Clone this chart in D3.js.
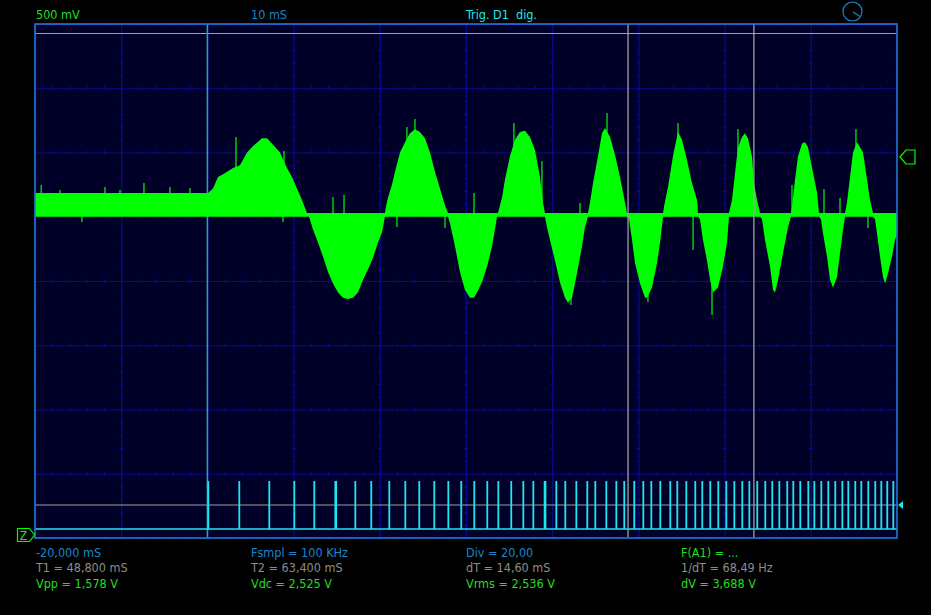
<!DOCTYPE html>
<html><head><meta charset="utf-8">
<script src="https://cdn.jsdelivr.net/npm/d3@7"></script>
<style>html,body{margin:0;background:#000;overflow:hidden}svg{display:block}</style>
</head><body><svg id="c" width="931" height="615"></svg>
<script>
// ---- data ----
const timeDomain = [-20, 80];          // ms, 10 mS/div
const voltDomain = [-2, 2];            // V, 500 mV/div
const timeGrid = [-20,-10,0,10,20,30,40,50,60,70,80];
const voltGrid = [-2,-1.5,-1,-0.5,0,0.5,1,1.5,2];
const baseV = 0.5, noiseTopV = 0.53;
const envT = [-20,0,0.07,0.65,1.23,1.81,2.97,3.78,4.59,5.29,6.33,6.91,7.61,8.42,9.23,9.81,10.39,10.97,11.32,11.55,
 11.79,12.25,12.83,13.41,13.99,14.57,15.15,15.73,16.31,16.89,17.47,18.05,18.63,19.21,19.79,20.26,20.60,
 20.72,20.95,21.41,21.76,22.34,22.92,23.50,24.08,24.66,25.24,25.82,26.40,26.98,27.56,27.91,
 28.14,28.72,29.30,29.88,30.46,30.93,31.27,31.85,32.44,33.02,33.36,33.60,
 33.71,34.18,34.52,35.10,35.68,36.26,36.84,37.42,38.00,38.58,38.93,39.16,
 39.39,39.74,40.32,40.90,41.48,41.83,42.30,42.88,43.46,43.80,44.15,
 44.38,44.73,45.31,45.78,46.13,46.71,47.29,47.87,48.33,48.68,
 48.91,49.26,49.61,50.19,50.77,51.00,51.58,52.16,52.51,52.86,
 52.97,53.43,54.01,54.59,55.06,55.64,56.22,56.80,56.91,
 57.14,57.49,57.96,58.31,58.65,59.23,59.81,60.28,60.51,
 60.86,61.21,61.55,62.02,62.37,62.71,63.18,63.41,63.76,64.11,
 64.34,64.69,65.27,65.62,65.85,66.20,66.78,67.36,67.70,
 67.82,68.17,68.52,68.98,69.33,69.68,70.26,70.72,70.95,
 71.18,71.42,71.88,72.23,72.58,73.04,73.39,73.74,73.97,
 74.20,74.55,74.90,75.36,75.71,76.06,76.52,76.87,77.22,
 77.45,77.68,78.03,78.38,78.61,78.96,79.42,79.77,80.00];
const envV = [0.685,0.685,0.685,0.72,0.81,0.83,0.88,0.90,1.00,1.05,1.11,1.11,1.06,1.00,0.88,0.81,0.72,0.63,0.57,0.51,
 0.50,0.40,0.30,0.19,0.07,-0.02,-0.09,-0.13,-0.14,-0.13,-0.09,0.01,0.09,0.18,0.30,0.38,0.50,
 0.58,0.65,0.75,0.85,1.00,1.08,1.15,1.18,1.16,1.11,1.00,0.85,0.72,0.59,0.51,
 0.45,0.27,0.07,-0.07,-0.13,-0.13,-0.09,-0.01,0.11,0.27,0.40,0.50,
 0.53,0.65,0.79,0.97,1.10,1.16,1.17,1.12,1.02,0.81,0.61,0.53,
 0.42,0.32,0.16,-0.01,-0.13,-0.17,-0.13,0.06,0.27,0.42,0.50,
 0.61,0.76,0.97,1.15,1.19,1.12,0.98,0.81,0.65,0.53,
 0.48,0.32,0.14,-0.02,-0.13,-0.13,-0.05,0.14,0.30,0.50,
 0.58,0.73,0.97,1.16,1.10,0.94,0.76,0.63,0.51,
 0.48,0.32,0.16,0.01,-0.09,-0.05,0.11,0.30,0.50,
 0.63,0.84,1.04,1.12,1.15,1.11,0.97,0.76,0.63,0.51,
 0.48,0.32,0.11,-0.07,-0.09,0.01,0.22,0.42,0.50,
 0.58,0.79,0.97,1.07,1.08,1.04,0.84,0.69,0.53,
 0.48,0.37,0.19,0.01,-0.05,0.03,0.22,0.40,0.50,
 0.61,0.81,1.00,1.08,1.04,1.00,0.79,0.63,0.51,
 0.48,0.37,0.19,0.03,-0.02,0.06,0.19,0.32,0.37];
const spikeT = [-19.28,-17.1,-14.55,-11.88,-10.14,-7.36,-4.34,-2.02,3.32,8.89,8.77,14.57,15.85,21.99,23.15,24.08,27.56,
 30.93,35.56,38.81,42.18,43.23,46.36,51.11,54.59,56.34,58.54,61.55,67.82,71.53,73.39,75.24,76.63];
const spikeV = [0.747,0.708,0.459,0.732,0.708,0.763,0.732,0.724,1.121,1.012,0.459,0.654,0.669,0.420,1.198,1.261,0.412,
 0.685,1.230,0.934,-0.187,0.607,1.307,-0.163,1.230,0.241,-0.265,1.183,0.747,0.716,0.646,1.183,0.412];
const pulseT = [0.10,3.70,7.18,10.08,12.40,14.84,14.94,17.16,19.01,21.10,22.96,24.58,26.32,27.95,29.45,30.96,32.47,33.75,
 35.25,36.65,37.81,39.12,39.22,40.48,41.52,42.80,44.07,45.00,46.28,47.44,48.36,49.52,50.57,51.50,52.54,53.70,
 54.51,55.56,56.60,57.41,58.34,59.27,60.20,61.13,62.05,62.87,63.79,64.72,65.53,66.35,67.27,67.97,68.78,69.71,
 70.41,71.22,72.03,72.84,73.66,74.35,75.16,75.86,76.67,77.48,78.18,78.87,79.57];
const cursorT = [48.8, 63.4];
const triggerT = 0;
const headerText = ["500 mV", "10 mS", "Trig. D1  dig."];
const row1 = ["-20,000 mS", "Fsmpl = 100 KHz", "Div = 20,00", "F(A1) = ..."];
const row2 = ["T1 = 48,800 mS", "T2 = 63,400 mS", "dT = 14,60 mS", "1/dT = 68,49 Hz"];
const row3 = ["Vpp = 1,578 V", "Vdc = 2,525 V", "Vrms = 2,536 V", "dV = 3,688 V"];

// ---- layout ----
const L = 35, R = 897, T = 24, B = 538;
const svg = d3.select("#c");
const x = d3.scaleLinear(timeDomain, [L, R]);
const y = d3.scaleLinear(voltDomain, [B, T]);
const dig = d3.scaleLinear([0, 1], [529, 481]);

const COL_BG = "#000029", COL_GRID = "#0a0a8c", COL_BORDER = "#1e78dc";
const COL_GREEN = "#00ff00", COL_CYAN = "#1ee6f0", COL_GREY = "#a0a0a0";
const COL_TXT_GREEN = "#22dd22", COL_TXT_BLUE = "#1a86cc", COL_TXT_GREY = "#8c8c8c";

svg.append("rect").attr("width", 931).attr("height", 615).attr("fill", "#000");
svg.append("rect").attr("x", L).attr("y", T).attr("width", R - L).attr("height", B - T).attr("fill", COL_BG);

const defs = svg.append("defs");
defs.append("clipPath").attr("id", "clip").append("rect").attr("x", L).attr("y", T).attr("width", R - L).attr("height", B - T);
const plot = svg.append("g").attr("clip-path", "url(#clip)");

// grid via axes
const gx = plot.append("g").attr("transform", `translate(0,${B})`)
  .call(d3.axisBottom(x).tickValues(timeGrid).tickSize(-(B - T)).tickFormat(""));
gx.select(".domain").remove();
gx.selectAll("line").attr("stroke", COL_GRID).attr("stroke-width", 1.2);
const gy = plot.append("g").attr("transform", `translate(${L},0)`)
  .call(d3.axisLeft(y).tickValues(voltGrid).tickSize(-(R - L)).tickFormat(""));
gy.select(".domain").remove();
gy.selectAll("line").attr("stroke", COL_GRID).attr("stroke-width", 1.2);

// minor ticks
const minorT = d3.range(-20, 80.001, 2);
const minorV = d3.range(-2, 2.001, 0.1);
voltGrid.forEach(v => {
  const g = plot.append("g").attr("transform", `translate(0,${y(v) - 2})`)
    .call(d3.axisBottom(x).tickValues(minorT).tickSize(4).tickSizeOuter(0).tickFormat(""));
  g.select(".domain").remove();
  g.selectAll("line").attr("stroke", COL_GRID).attr("stroke-width", 1.1);
});
timeGrid.forEach(t => {
  const g = plot.append("g").attr("transform", `translate(${x(t) + 2},0)`)
    .call(d3.axisLeft(y).tickValues(minorV).tickSize(4).tickSizeOuter(0).tickFormat(""));
  g.select(".domain").remove();
  g.selectAll("line").attr("stroke", COL_GRID).attr("stroke-width", 1.1);
});

// grey reference lines
plot.append("line").attr("x1", L).attr("x2", R).attr("y1", 33.5).attr("y2", 33.5).attr("stroke", COL_GREY).attr("stroke-width", 1.2);
plot.append("line").attr("x1", L).attr("x2", R).attr("y1", 505).attr("y2", 505).attr("stroke", COL_GREY).attr("stroke-width", 1.2);

// trigger line
plot.append("line").attr("x1", x(triggerT)).attr("x2", x(triggerT)).attr("y1", T).attr("y2", B)
  .attr("stroke", "#1fa8a8").attr("stroke-width", 1.5);

// envelope
const env = envT.map((t, i) => ({ t, v: envV[i] }));
const area = d3.area()
  .x(d => x(d.t))
  .y0(d => y(Math.min(d.v, baseV)))
  .y1(d => y(Math.max(d.v, noiseTopV)));
plot.append("path").datum(env).attr("d", area).attr("fill", COL_GREEN);

// spikes
plot.selectAll("line.spike").data(spikeT.map((t, i) => ({ t, v: spikeV[i] }))).join("line")
  .attr("class", "spike")
  .attr("x1", d => x(d.t)).attr("x2", d => x(d.t))
  .attr("y1", y(0.515)).attr("y2", d => y(d.v))
  .attr("stroke", COL_GREEN).attr("stroke-width", 1.2);

// digital channel
plot.append("line").attr("x1", L).attr("x2", R).attr("y1", dig(0)).attr("y2", dig(0)).attr("stroke", COL_CYAN).attr("stroke-width", 1.5);
plot.selectAll("rect.pulse").data(pulseT).join("rect")
  .attr("class", "pulse")
  .attr("x", d => x(d) - 0.9).attr("width", 1.8)
  .attr("y", dig(1)).attr("height", dig(0) - dig(1))
  .attr("fill", COL_CYAN);

// cursors
cursorT.forEach(t => {
  plot.append("line").attr("x1", x(t)).attr("x2", x(t)).attr("y1", T).attr("y2", B)
    .attr("stroke", COL_GREY).attr("stroke-width", 1.3);
});

// border
svg.append("rect").attr("x", L).attr("y", T).attr("width", R - L).attr("height", B - T)
  .attr("fill", "none").attr("stroke", COL_BORDER).attr("stroke-width", 1.6);

// markers
svg.append("path").attr("d", `M${R + 3},${y(0.965)} L${R + 9},${y(0.965) - 7} L${R + 18},${y(0.965) - 7} L${R + 18},${y(0.965) + 7} L${R + 9},${y(0.965) + 7} Z`)
  .attr("fill", "#000").attr("stroke", COL_GREEN).attr("stroke-width", 1.2);
svg.append("path").attr("d", `M${R + 1},505 L${R + 6},501 L${R + 6},509 Z`).attr("fill", COL_CYAN);
svg.append("path").attr("d", `M17.5,528.5 L29.5,528.5 L34.5,535 L29.5,541.5 L17.5,541.5 Z`)
  .attr("fill", "#000").attr("stroke", COL_GREEN).attr("stroke-width", 1.2);
svg.append("text").attr("x", 23.5).attr("y", 540).attr("text-anchor", "middle")
  .attr("font-family", "DejaVu Sans Condensed, DejaVu Sans").attr("font-size", 12).attr("fill", COL_GREEN).text("Z");

// clock icon
svg.append("circle").attr("cx", 852.5).attr("cy", 11.5).attr("r", 9.5).attr("fill", "none").attr("stroke", COL_TXT_BLUE).attr("stroke-width", 1.2);
svg.append("line").attr("x1", 853).attr("y1", 12).attr("x2", 860).attr("y2", 16.5).attr("stroke", COL_TXT_BLUE).attr("stroke-width", 1.2);

// texts
const font = "DejaVu Sans Condensed, DejaVu Sans, sans-serif";
const colX = [36, 251, 466, 681];
const headerCol = [COL_TXT_GREEN, COL_TXT_BLUE, COL_CYAN];
svg.selectAll("text.hdr").data(headerText).join("text").attr("class", "hdr")
  .attr("x", (d, i) => colX[i]).attr("y", 19).attr("font-family", font).attr("font-size", 12.5)
  .attr("fill", (d, i) => headerCol[i]).attr("xml:space", "preserve").style("white-space", "pre").text(d => d);

const rows = [
  { y: 556.5, items: row1, colors: [COL_TXT_BLUE, COL_TXT_BLUE, COL_TXT_BLUE, COL_TXT_GREEN] },
  { y: 572, items: row2, colors: [COL_TXT_GREY, COL_TXT_GREY, COL_TXT_GREY, COL_TXT_GREY] },
  { y: 588, items: row3, colors: [COL_TXT_GREEN, COL_TXT_GREEN, COL_TXT_GREEN, COL_TXT_GREEN] }
];
rows.forEach(r => {
  r.items.forEach((s, i) => {
    svg.append("text").attr("x", colX[i]).attr("y", r.y).attr("font-family", font).attr("font-size", 12.5)
      .attr("fill", r.colors[i]).text(s);
  });
});
</script></body></html>
